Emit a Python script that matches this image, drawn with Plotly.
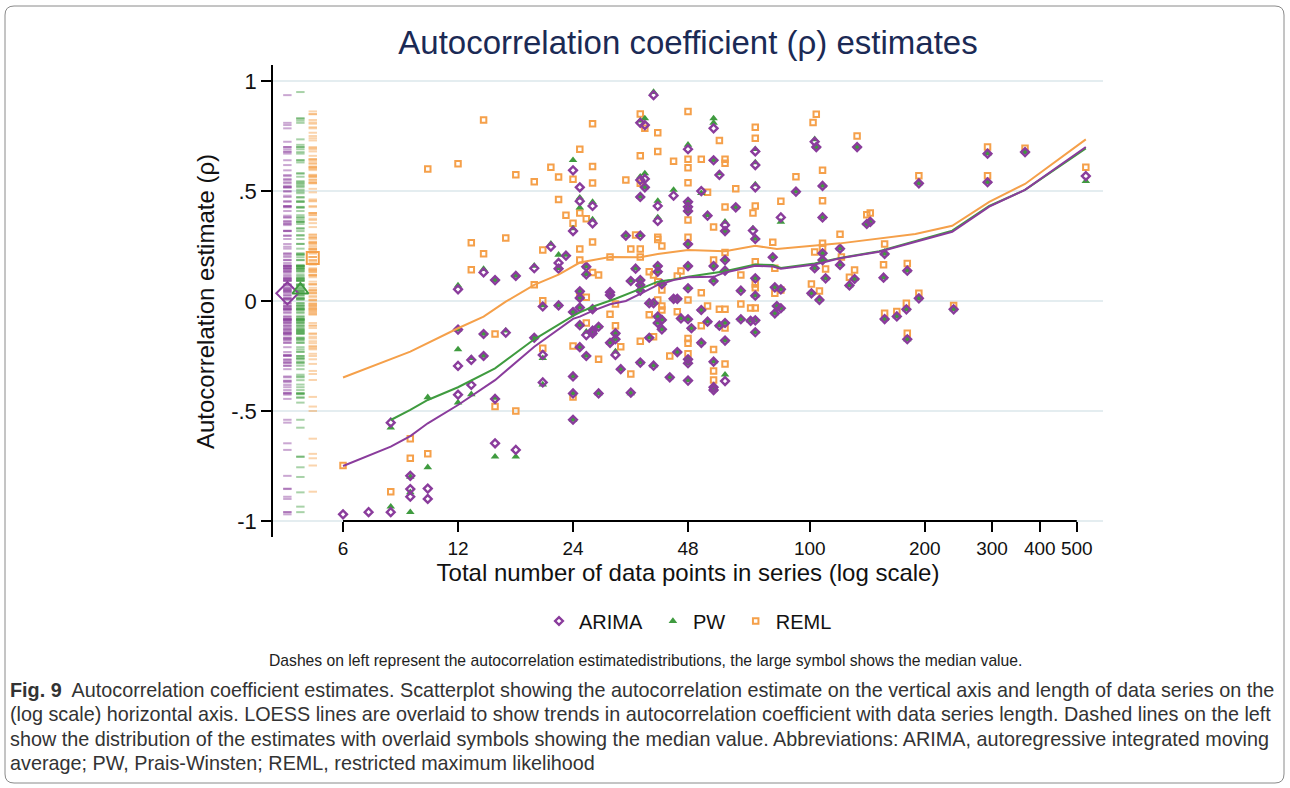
import numpy as np
import plotly.graph_objects as go

# ---------------- data ----------------
arima_n = [6, 7, 8, 8, 9, 9, 9, 10, 10,
           12, 12, 12, 12, 13, 13, 14, 14, 14, 15, 15, 15, 16, 17, 17, 19, 19,
           20, 20, 20, 21, 22, 22, 22, 23,
           24, 24, 24, 24, 24, 24, 25, 25, 25, 25, 25, 25, 25,
           26, 26, 26, 26, 27, 27, 27, 27, 27, 28, 28, 30, 30, 30,
           31, 31, 31, 32, 33, 34, 34, 35,
           36, 36, 36, 36, 36, 36, 36, 36, 37, 37, 37, 38, 38, 39, 39, 39,
           40, 40, 40, 40, 40, 40, 41, 41, 41, 43, 44, 44, 45, 45, 46,
           48, 48, 48, 48, 48, 48, 48, 48, 48, 48, 48, 49, 52, 52, 52, 54, 54,
           56, 56, 56, 56, 56, 56, 56, 58, 58, 60, 60, 60, 60, 60, 60, 60,
           64, 66, 66, 70, 71, 72, 72, 72, 72, 72, 72, 72, 72,
           80, 81, 81, 82, 84, 84, 84, 92, 101, 103, 103, 104, 106,
           108, 108, 108, 108, 110, 120, 120, 127, 131, 133, 141, 144,
           156, 157, 157, 169, 179, 180, 180, 193, 193, 238, 292, 292, 366, 528]
arima_rho = [-0.97, -0.96, -0.96, -0.553, -0.795, -0.855, -0.89, -0.853, -0.90,
             0.053, -0.13, -0.295, -0.426, -0.268, -0.382, 0.13, -0.15, -0.25, 0.095, -0.445, -0.647, -0.144, 0.114, -0.677, 0.149, -0.167,
             -0.025, -0.245, -0.37, 0.247, 0.173, 0.147, -0.02, 0.206,
             0.594, 0.318, -0.05, -0.343, -0.42, -0.54, 0.517, 0.454, 0.044, 0.014, -0.03, -0.11, -0.21,
             0.156, 0.121, -0.155, -0.25, 0.432, 0.353, -0.037, -0.135, -0.147, -0.117, -0.42, 0.04, 0.027, -0.19,
             -0.147, -0.174, -0.245, -0.31, 0.297, 0.091, -0.417, 0.147,
             0.81, 0.55, 0.473, 0.297, 0.095, 0.073, 0.047, -0.28, 0.80, 0.555, 0.517, -0.01, -0.167, 0.936, -0.01, -0.294,
             0.432, 0.364, 0.159, 0.133, -0.071, -0.10, 0.077, -0.086, -0.129, -0.347, 0.479, 0.01, 0.01, -0.232, -0.079,
             0.69, 0.451, 0.428, 0.409, 0.259, 0.159, 0.058, -0.083, -0.265, -0.283, -0.362, -0.124, 0.50, -0.041, -0.19, 0.388, -0.094,
             0.785, 0.64, 0.159, 0.091, -0.276, -0.392, -0.405, 0.573, -0.112, 0.345, 0.318, 0.186, 0.138, -0.10, -0.18, -0.364,
             0.426, 0.047, -0.083, -0.09, 0.32, 0.68, 0.618, 0.517, 0.282, 0.103, 0.024, -0.088, -0.142,
             0.199, 0.062, -0.056, -0.023, 0.38, 0.053, -0.033, 0.497, 0.035, 0.724, 0.149, 0.70, 0.005,
             0.523, 0.38, 0.217, 0.186, 0.103, 0.238, 0.164, 0.071, 0.10, 0.70, 0.35, 0.36,
             0.106, 0.214, -0.082, -0.07, -0.038, 0.138, -0.174, 0.535, 0.012, -0.038, 0.67, 0.54, 0.677, 0.568]

pw_n = [8, 8, 9, 9, 9, 10, 10,
        12, 12, 12, 12, 13, 13, 14, 14, 14, 15, 15, 15, 16, 17, 17, 19, 19,
        20, 20, 20, 21, 22, 22, 22, 23,
        24, 24, 24, 24, 24, 24, 25, 25, 25, 25, 25, 25, 25,
        26, 26, 26, 26, 27, 27, 27, 27, 27, 28, 28, 30, 30, 30,
        31, 31, 31, 32, 33, 34, 34, 35,
        36, 36, 36, 36, 36, 36, 36, 36, 37, 37, 37, 38, 38, 39, 39, 39,
        40, 40, 40, 40, 40, 40, 41, 41, 41, 43, 44, 44, 45, 45, 46,
        48, 48, 48, 48, 48, 48, 48, 48, 48, 48, 48, 49, 52, 52, 52, 54, 54,
        56, 56, 56, 56, 56, 56, 56, 56, 58, 58, 60, 60, 60, 60, 60, 60, 60,
        64, 66, 66, 70, 71, 72, 72, 72, 72, 72, 72, 72, 72,
        80, 81, 81, 82, 84, 84, 84, 92, 101, 103, 103, 104, 106,
        108, 108, 108, 108, 110, 120, 120, 127, 131, 133, 141, 144,
        156, 157, 157, 169, 179, 180, 180, 193, 193, 238, 292, 292, 366, 528]
pw_rho = [-0.935, -0.576, -0.96, -0.87, -0.80, -0.438, -0.756,
          0.07, -0.13, -0.22, -0.462, -0.26, -0.424, 0.145, -0.15, -0.25, 0.095, -0.44, -0.708, -0.135, 0.114, -0.708, 0.16, -0.167,
          -0.02, -0.26, -0.38, 0.26, 0.21, 0.15, -0.02, 0.21,
          0.64, 0.33, -0.05, -0.343, -0.42, -0.54, 0.47, 0.424, 0.044, 0.014, -0.03, -0.11, -0.21,
          0.156, 0.121, -0.14, -0.25, 0.45, 0.37, -0.037, -0.135, -0.147, -0.117, -0.42, 0.04, 0.027, -0.19,
          -0.147, -0.174, -0.23, -0.31, 0.297, 0.091, -0.42, 0.147,
          0.82, 0.565, 0.473, 0.30, 0.095, 0.073, 0.047, -0.28, 0.83, 0.58, 0.517, -0.01, -0.167, 0.95, -0.01, -0.294,
          0.455, 0.38, 0.159, 0.133, -0.071, -0.10, 0.077, -0.086, -0.129, -0.347, 0.505, 0.01, 0.01, -0.232, -0.079,
          0.71, 0.451, 0.428, 0.409, 0.259, 0.159, 0.058, -0.083, -0.265, -0.283, -0.36, -0.124, 0.49, -0.041, -0.19, 0.39, -0.094,
          0.83, 0.81, 0.64, 0.159, 0.091, -0.276, -0.392, -0.405, 0.58, -0.112, 0.36, 0.318, 0.186, 0.138, -0.10, -0.18, -0.335,
          0.426, 0.047, -0.083, -0.09, 0.33, 0.69, 0.63, 0.53, 0.282, 0.103, 0.024, -0.088, -0.142,
          0.199, 0.062, -0.056, -0.023, 0.36, 0.053, -0.033, 0.497, 0.035, 0.735, 0.149, 0.70, 0.005,
          0.523, 0.38, 0.217, 0.186, 0.103, 0.238, 0.164, 0.071, 0.10, 0.70, 0.35, 0.36,
          0.106, 0.214, -0.082, -0.07, -0.038, 0.138, -0.174, 0.535, 0.012, -0.038, 0.67, 0.54, 0.677, 0.545]

reml_n = [6, 8, 9, 9, 10, 10, 12, 13, 13, 14, 14, 15, 15, 16, 17, 17, 19, 19,
          20, 20, 20, 21, 22, 22, 23, 24, 24, 24, 24, 25, 25, 25, 25, 25,
          26, 26, 26, 27, 27, 27, 27, 27, 28, 28, 30, 30, 31, 31, 32, 33, 34, 34, 35,
          36, 36, 36, 36, 36, 36, 37, 38, 38, 39, 39, 40, 40, 40, 40, 40, 40,
          41, 41, 41, 41, 43, 44, 45, 45, 46,
          48, 48, 48, 48, 48, 48, 48, 48, 48, 48, 52, 52, 52, 54, 54,
          56, 56, 56, 56, 56, 58, 58, 60, 60, 60, 60, 60, 60, 60,
          64, 66, 66, 70, 71, 72, 72, 72, 72, 72, 72, 72,
          80, 81, 81, 84, 84, 92, 101, 102, 103, 104, 106, 108, 108, 108, 108, 110,
          120, 121, 127, 131, 133, 141, 144, 156, 157, 157, 169, 179, 180, 180,
          193, 193, 238, 292, 292, 366, 528]
reml_rho = [-0.748, -0.867, -0.626, -0.715, 0.60, -0.695, 0.624, 0.265, 0.142, 0.823, 0.215, -0.15, -0.48, 0.286, 0.574, -0.50, 0.542, 0.074,
            0.232, 0.001, -0.215, 0.608, 0.564, 0.462, 0.39, 0.553, 0.354, -0.205, -0.436, 0.69, 0.40, 0.236, 0.186, 0.023,
            0.374, 0.017, -0.10, 0.806, 0.612, 0.536, 0.268, 0.13, 0.118, -0.265, 0.20, -0.06, -0.014, -0.112, -0.208, 0.55, 0.236, -0.332, 0.30,
            0.85, 0.66, 0.535, 0.236, 0.20, -0.183, 0.785, 0.133, -0.062, 0.118, -0.162, 0.765, 0.68, 0.29, 0.28, 0.088, 0.005,
            0.25, 0.05, -0.023, -0.041, -0.25, 0.635, 0.114, -0.049, 0.136,
            0.862, 0.644, 0.606, 0.538, 0.368, 0.29, 0.005, -0.17, -0.192, -0.24, 0.644, 0.038, -0.112, 0.494, -0.023,
            0.336, 0.186, -0.22, -0.318, -0.359, 0.73, -0.038, 0.644, 0.626, 0.427, 0.22, -0.038, -0.123, -0.286,
            0.51, 0.118, -0.014, -0.032, 0.40, 0.79, 0.74, 0.432, 0.179, 0.077, 0.06, -0.032,
            0.267, 0.149, 0.035, 0.453, 0.05, 0.565, 0.077, 0.812, 0.223, 0.849, 0.045, 0.595, 0.456, 0.262, 0.242, 0.145,
            0.303, 0.20, 0.108, 0.141, 0.75, 0.392, 0.40, 0.165, 0.259, -0.056, -0.048, -0.01, 0.17, -0.147,
            0.57, 0.035, -0.02, 0.70, 0.57, 0.695, 0.608]

# LOESS smooths
arima_loess_n = [6, 8, 9, 10, 12, 15, 19, 24, 25, 27, 30, 33, 36, 40, 44, 48, 56, 60, 66, 72, 80, 84,
                 103, 120, 152, 189, 236, 295, 366, 528]
arima_loess = [-0.75, -0.662, -0.614, -0.556, -0.473, -0.36, -0.208, -0.081, -0.071, -0.045, -0.015, 0.0, 0.032,
               0.073, 0.095, 0.108, 0.11, 0.13, 0.145, 0.16, 0.157, 0.147, 0.166, 0.194, 0.224, 0.27, 0.315,
               0.429, 0.505, 0.70]
pw_loess_n = [8, 9, 10, 12, 15, 19, 24, 25, 27, 31, 36, 40, 43, 48, 60, 72, 80, 84, 103, 120, 152, 189,
              236, 295, 366, 528]
pw_loess = [-0.541, -0.495, -0.45, -0.392, -0.306, -0.174, -0.068, -0.052, -0.026, 0.01, 0.055, 0.088, 0.095,
            0.11, 0.135, 0.166, 0.164, 0.15, 0.171, 0.196, 0.226, 0.272, 0.32, 0.432, 0.505, 0.694]
reml_loess_n = [6, 8, 9, 12, 14, 16, 19, 22, 25, 30, 36, 40, 48, 60, 72, 82, 103, 120, 189, 236, 295, 366, 528]
reml_loess = [-0.348, -0.262, -0.23, -0.124, -0.071, -0.003, 0.073, 0.12, 0.175, 0.20, 0.199, 0.214, 0.232,
              0.226, 0.251, 0.236, 0.251, 0.262, 0.305, 0.342, 0.451, 0.532, 0.735]

# medians of the distributions (large symbols on the left)
median_arima = 0.035
median_pw = 0.05
median_reml = 0.195

x_tick_vals = [6, 12, 24, 48, 100, 200, 300, 400, 500]
x_tick_text = ["6", "12", "24", "48", "100", "200", "300", "400", "500"]
y_tick_vals = [-1, -0.5, 0, 0.5, 1]
y_tick_text = ["-1", "-.5", "0", ".5", "1"]

# ---------------- styling ----------------
W, H = 1290, 788
ML, MR, MT, MB = 273, 187, 65, 251
PWID = W - ML - MR
PHGT = H - MT - MB

def xp(px):
    return (px - ML) / PWID

def yp(py):
    return (H - MB - py) / PHGT

C_AR = "#8a3c9c"
C_PW = "#3f9b3f"
C_RE = "#f5a04a"
C_AR_D = "rgba(138,60,156,0.45)"
C_PW_D = "rgba(63,155,63,0.45)"
C_RE_D = "rgba(245,160,74,0.45)"
FONT = "Liberation Sans, Arial, sans-serif"
NB = "\u00a0"

# strip positions for the distribution dashes (in series-length units on log axis)
DASH_X = {"ARIMA": 4.29, "PW": 4.64, "REML": 5.0}

fig = go.Figure()

# distribution dashes
for key, vals, col in [("ARIMA", arima_rho, C_AR_D), ("PW", pw_rho, C_PW_D), ("REML", reml_rho, C_RE_D)]:
    fig.add_trace(go.Scatter(x=[DASH_X[key]] * len(vals), y=vals, mode="markers",
                             marker=dict(symbol="line-ew", size=6, line=dict(width=2, color=col)),
                             showlegend=False, hoverinfo="skip"))

# median symbols
fig.add_trace(go.Scatter(x=[DASH_X["ARIMA"]], y=[median_arima], mode="markers",
                         marker=dict(symbol="diamond-open", size=17, color=C_AR, line=dict(width=2, color=C_AR)),
                         showlegend=False))
fig.add_trace(go.Scatter(x=[DASH_X["PW"]], y=[median_pw], mode="markers",
                         marker=dict(symbol="triangle-up-open", size=14, color=C_PW, line=dict(width=2, color=C_PW)),
                         showlegend=False))
fig.add_trace(go.Scatter(x=[DASH_X["REML"]], y=[median_reml], mode="markers",
                         marker=dict(symbol="square-open", size=12, color=C_RE, line=dict(width=2, color=C_RE)),
                         showlegend=False))

# scatter points
fig.add_trace(go.Scatter(x=reml_n, y=reml_rho, mode="markers", name="REML", legendrank=3,
                         marker=dict(symbol="square-open", size=5.5, color=C_RE, line=dict(width=2, color=C_RE))))
fig.add_trace(go.Scatter(x=pw_n, y=pw_rho, mode="markers", name="PW" + NB, legendrank=2,
                         marker=dict(symbol="triangle-up", size=7.5, color=C_PW, line=dict(width=0))))
fig.add_trace(go.Scatter(x=arima_n, y=arima_rho, mode="markers", name="ARIMA" + NB, legendrank=1,
                         marker=dict(symbol="diamond-open", size=6, color=C_AR, line=dict(width=2.4, color=C_AR))))

# LOESS lines
fig.add_trace(go.Scatter(x=reml_loess_n, y=reml_loess, mode="lines", line=dict(color=C_RE, width=2),
                         showlegend=False))
fig.add_trace(go.Scatter(x=pw_loess_n, y=pw_loess, mode="lines", line=dict(color=C_PW, width=2),
                         showlegend=False))
fig.add_trace(go.Scatter(x=arima_loess_n, y=arima_loess, mode="lines", line=dict(color=C_AR, width=2),
                         showlegend=False))

Y_LO, Y_HI = -1.073, 1.073
fig.update_layout(
    width=W, height=H,
    margin=dict(l=ML, r=MR, t=MT, b=MB),
    paper_bgcolor="white", plot_bgcolor="white",
    font=dict(family=FONT, color="#111111"),
    title=dict(text="Autocorrelation coefficient (ρ) estimates", x=0.5, xref="paper",
               y=1 - 42 / H, yanchor="middle", yref="container",
               font=dict(size=33, color="#1b2a55", family=FONT)),
    xaxis=dict(type="log", range=[np.log10(3.934), np.log10(585.6)],
               tickvals=x_tick_vals, ticktext=x_tick_text,
               ticks="outside", ticklen=10, tickwidth=1.5, tickcolor="black",
               showgrid=False, showline=False, zeroline=False,
               anchor="free", position=(-1 - Y_LO) / (Y_HI - Y_LO),
               tickfont=dict(size=19, family=FONT, color="#111"),
               title=dict(text="Total number of data points in series (log scale)",
                          font=dict(size=24, family=FONT, color="#111"), standoff=2)),
    yaxis=dict(range=[Y_LO, Y_HI], tickvals=y_tick_vals, ticktext=y_tick_text,
               ticks="outside", ticklen=10, tickwidth=1.5, tickcolor="black",
               showline=True, linecolor="black", linewidth=1.5,
               showgrid=True, gridcolor="#e4edf0", gridwidth=1.5, zeroline=False,
               tickfont=dict(size=22, family=FONT, color="#111")),
    legend=dict(orientation="h", x=0.5, xanchor="center", y=yp(621), yanchor="middle",
                font=dict(size=20, family=FONT, color="#111"), bgcolor="rgba(0,0,0,0)"),
    shapes=[
        dict(type="line", xref="x", yref="y", x0=6, x1=500, y0=0, y1=0,
             line=dict(color="black", width=2), layer="below"),
        dict(type="line", xref="x", yref="y", x0=6, x1=500, y0=-1, y1=-1,
             line=dict(color="black", width=2), layer="above"),
    ],
)

# y axis title
fig.add_annotation(xref="paper", yref="paper", x=xp(205), y=yp(302), xanchor="center", yanchor="middle",
                   showarrow=False, textangle=-90, text="Autocorrelation estimate (ρ)",
                   font=dict(size=24, family=FONT, color="#111"))

# rounded outer frame
x0, x1, y0, y1 = xp(5), xp(1284), yp(6), yp(783)
rx, ry = 9 / PWID, 9 / PHGT
path = (f"M {x0 + rx},{y0} L {x1 - rx},{y0} Q {x1},{y0} {x1},{y0 - ry} "
        f"L {x1},{y1 + ry} Q {x1},{y1} {x1 - rx},{y1} L {x0 + rx},{y1} "
        f"Q {x0},{y1} {x0},{y1 + ry} L {x0},{y0 - ry} Q {x0},{y0} {x0 + rx},{y0} Z")
fig.add_shape(type="path", xref="paper", yref="paper", path=path,
              line=dict(color="#8a8a8a", width=1))

# note and caption
fig.add_annotation(xref="paper", yref="paper", x=xp(645), y=yp(660), xanchor="center", yanchor="middle",
                   showarrow=False,
                   text="Dashes on left represent the autocorrelation estimatedistributions, the large symbol shows the median value.",
                   font=dict(size=15.7, family=FONT, color="#222"))
caption_lines = [
    "<b>Fig. 9</b>  Autocorrelation coefficient estimates. Scatterplot showing the autocorrelation estimate on the vertical axis and length of data series on the",
    "(log scale) horizontal axis. LOESS lines are overlaid to show trends in autocorrelation coefficient with data series length. Dashed lines on the left",
    "show the distribution of the estimates with overlaid symbols showing the median value. Abbreviations: ARIMA, autoregressive integrated moving",
    "average; PW, Prais-Winsten; REML, restricted maximum likelihood",
]
for i, line in enumerate(caption_lines):
    fig.add_annotation(xref="paper", yref="paper", x=xp(8), y=yp(690 + 24.4 * i), xanchor="left", yanchor="middle",
                       showarrow=False, text=line, align="left",
                       font=dict(size=19.8, family=FONT, color="#333"))

fig.write_html("out.html")
